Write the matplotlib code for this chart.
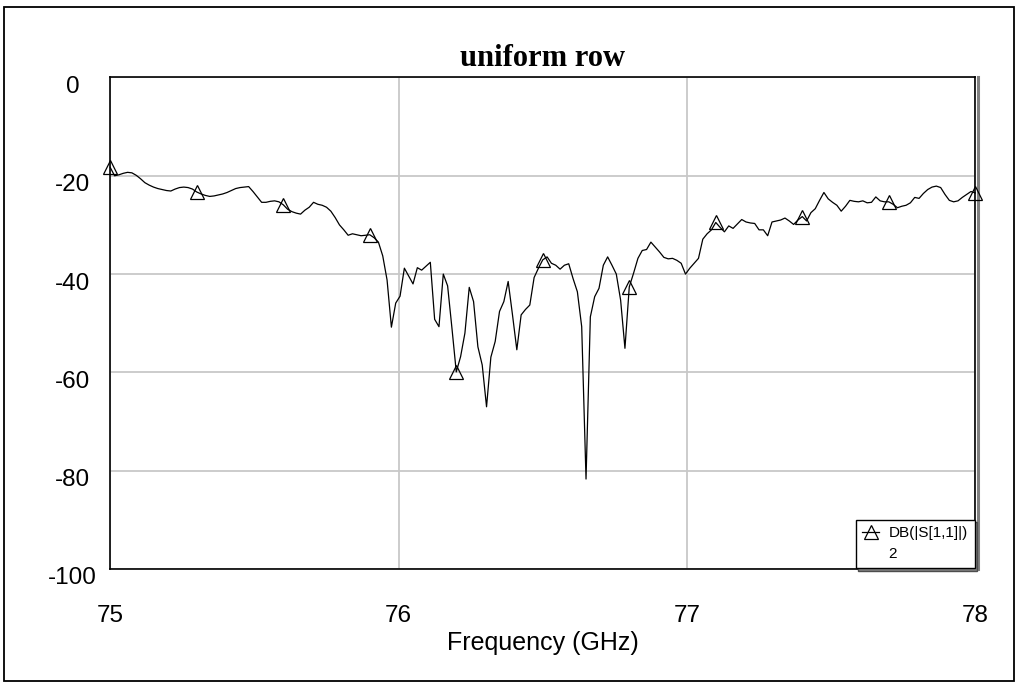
import numpy as np
import matplotlib
matplotlib.use('Agg')
import matplotlib.pyplot as plt
from matplotlib.transforms import ScaledTranslation
from matplotlib.lines import Line2D
from matplotlib.patches import Rectangle

# frequency grid of the sweep (GHz), 201 points
freq = np.linspace(75.0, 78.0, 201)

# |S11| in dB
s11_db = [
    -18.3, -20.0, -19.8, -19.5, -19.3, -19.4, -19.9, -20.6, -21.4, -21.9,
    -22.3, -22.6, -22.8, -23.0, -23.1, -22.7, -22.4, -22.3, -22.4, -22.7,
    -23.3, -23.7, -24.0, -24.2, -24.1, -23.9, -23.7, -23.4, -23.0, -22.6,
    -22.4, -22.3, -22.2, -23.2, -24.3, -25.4, -25.4, -25.2, -25.1, -25.3,
    -25.9, -26.8, -27.3, -27.6, -27.8, -27.0, -26.4, -25.4, -25.8, -26.0,
    -26.4, -27.2, -28.5, -30.0, -31.0, -32.1, -31.8, -32.0, -32.2, -32.1,
    -32.0, -32.6, -33.5, -36.3, -41.2, -50.8, -45.9, -44.5, -38.8, -40.4,
    -42.0, -38.7, -39.2, -38.4, -37.6, -49.2, -50.7, -40.0, -42.4, -51.0,
    -59.9, -56.8, -52.0, -42.7, -45.6, -54.8, -58.5, -67.0, -56.9, -53.7,
    -47.6, -45.6, -41.5, -48.3, -55.4, -48.3, -47.2, -46.3, -40.7, -38.8,
    -37.1, -36.5, -37.8, -38.2, -39.0, -38.2, -37.9, -40.9, -43.6, -50.7,
    -81.7, -48.7, -44.6, -42.9, -38.2, -36.5, -38.2, -40.0, -45.3, -55.1,
    -42.6, -39.8, -36.8, -35.2, -35.0, -33.5, -34.5, -35.5, -36.6, -36.9,
    -36.8, -37.2, -37.8, -40.0, -38.8, -37.8, -36.8, -32.9, -31.8, -31.0,
    -29.5, -30.5, -31.4, -30.2, -30.7, -29.8, -28.9, -29.4, -29.6, -29.7,
    -31.0, -31.0, -32.2, -29.4, -29.2, -29.0, -28.6, -29.2, -29.9, -29.0,
    -28.3, -29.2, -27.5, -26.7, -25.0, -23.4, -24.7, -25.4, -26.0, -27.2,
    -26.2, -25.0, -25.2, -25.3, -25.1, -25.5, -25.4, -24.3, -25.1, -25.3,
    -25.3, -25.8, -26.5, -26.2, -26.0, -25.5, -24.4, -24.6, -23.6, -22.8,
    -22.3, -22.1, -22.4, -23.8, -25.0, -25.3, -25.1, -24.4, -23.8, -23.2,
    -23.5,
]

xticks = [75, 76, 77, 78]
yticks = [0, -20, -40, -60, -80, -100]

plt.rcParams['font.family'] = ['Liberation Sans', 'DejaVu Sans']

fig = plt.figure(figsize=(10.19, 6.82), dpi=100)
ax = fig.add_axes([0.1082, 0.1657, 0.9571 - 0.1082, 0.8864 - 0.1657])

ax.plot(freq, s11_db, color='black', lw=0.9, marker='^', markevery=20,
        markersize=10.5, markerfacecolor='none', markeredgecolor='black',
        markeredgewidth=0.9, clip_on=False, zorder=3)

ax.set_xlim(75, 78)
ax.set_ylim(-100, 0)
ax.set_xticks(xticks)
ax.set_yticks(yticks)
ax.set_xticklabels([str(v) for v in xticks])
ax.set_yticklabels([str(v) for v in yticks])
ax.tick_params(axis='both', length=0, labelsize=17.5)
ax.tick_params(axis='y', pad=27)
ax.tick_params(axis='x', pad=26)
for lab in ax.get_yticklabels():
    lab.set_horizontalalignment('center')
    lab.set_transform(lab.get_transform() + ScaledTranslation(0, -7 / 100, fig.dpi_scale_trans))

ax.grid(True, color='#c8c8c8', lw=1.3)
ax.set_axisbelow(True)
for sp in ax.spines.values():
    sp.set_linewidth(1.2)
    sp.set_color('black')

# grey shadow on the right edge of the plot frame
ax.plot([1, 1], [0, 1], transform=ax.transAxes + ScaledTranslation(2.5 / 100, 0, fig.dpi_scale_trans),
        color='#808080', lw=2.2, clip_on=False, zorder=1)

ax.set_xlabel('Frequency (GHz)', fontsize=18, labelpad=3)
ax.set_title('uniform row', fontsize=22, fontweight='bold',
             family=['Liberation Serif', 'DejaVu Serif'], pad=8)

# legend with a drop shadow
handles = [
    Line2D([], [], color='black', lw=0.9, marker='^', markersize=10,
           markerfacecolor='none', markeredgewidth=0.9),
    Line2D([], [], color='none'),
]
leg = ax.legend(handles, ['DB(|S[1,1]|)', '2'], loc='lower right',
                borderaxespad=0.05, fontsize=11, frameon=True, fancybox=False,
                shadow={'facecolor': '#808080', 'alpha': 1},
                handlelength=1.1, handletextpad=0.6, labelspacing=0.45,
                borderpad=0.45)
leg.get_frame().set_edgecolor('black')
leg.get_frame().set_linewidth(1.0)
leg.get_frame().set_alpha(1)

# outer frame around the whole picture
fig.patches.append(Rectangle((4 / 1019, 1 / 682), 1010 / 1019, 674 / 682,
                             transform=fig.transFigure, fill=False,
                             edgecolor='black', lw=1.3))

fig.savefig('out.png', dpi=100)
